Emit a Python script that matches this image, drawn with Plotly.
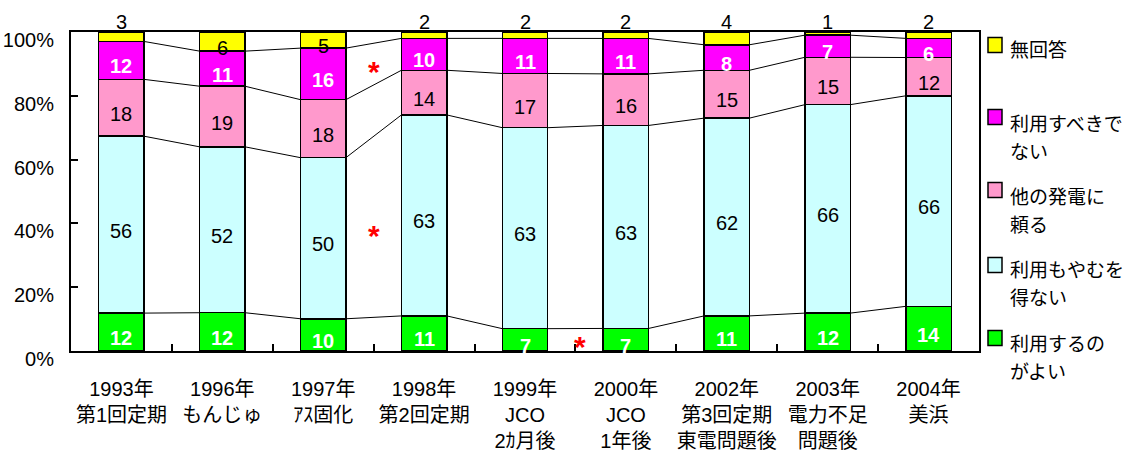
import numpy as np
import plotly.graph_objects as go

# ---------------- data ----------------
categories = ["1993年<br>第1回定期", "1996年<br>もんじゅ", "1997年<br>ｱｽ固化", "1998年<br>第2回定期",
              "1999年<br>JCO<br>2ｶ月後", "2000年<br>JCO<br>1年後", "2002年<br>第3回定期<br>東電問題後",
              "2003年<br>電力不足<br>問題後", "2004年<br>美浜"]
series_names = ["利用するのがよい", "利用もやむを得ない", "他の発電に頼る", "利用すべきでない", "無回答"]
legend_lines = [["利用するの", "がよい"], ["利用もやむを", "得ない"], ["他の発電に", "頼る"],
                ["利用すべきで", "ない"], ["無回答"]]
good = [12, 12, 10, 11, 7, 7, 11, 12, 14]
unavoidable = [56, 52, 50, 63, 63, 63, 62, 66, 66]
other_power = [18, 19, 18, 14, 17, 16, 15, 15, 12]
should_not = [12, 11, 16, 10, 11, 11, 8, 7, 6]
no_answer = [3, 6, 5, 2, 2, 2, 4, 1, 2]
y_tickvals = [0, 20, 40, 60, 80, 100]
y_ticktext = ["0%", "20%", "40%", "60%", "80%", "100%"]
star_x = [2.5, 2.5, 4.55]
star_y = [88.7, 37.3, 2.5]

colors = ["#00FF00", "#CCFFFF", "#FF99CC", "#FF00FF", "#FFFF00"]
label_colors = ["white", "black", "black", "white", "black"]
label_bold = [True, False, False, True, False]

series = [good, unavoidable, other_power, should_not, no_answer]
vals = np.array(series, dtype=float)
norm = vals / vals.sum(axis=0) * 100.0
cum = np.cumsum(norm, axis=0)

n = len(categories)
xpos = np.arange(n)
BW = 0.45

# plot area geometry (px)
W, H = 1134, 466
L, R, T, B = 71, 155, 32, 115
PW, PH = W - L - R, H - T - B

def pxx(px):
    return (px - L) / PW

def pxy(py):
    return (H - B - py) / PH

NUMFONT = "Liberation Sans, Arial, sans-serif"
JPFONT = "Liberation Sans, Noto Sans CJK JP, sans-serif"

fig = go.Figure()
for s in range(5):
    fig.add_trace(go.Bar(
        x=xpos, y=series[s], name=series_names[s], width=BW,
        marker=dict(color=colors[s], line=dict(color="black", width=1.5)),
        showlegend=False, hoverinfo="skip"))

# connecting lines
for s in range(4):
    for i in range(n - 1):
        fig.add_trace(go.Scatter(
            x=[xpos[i] + BW / 2, xpos[i + 1] - BW / 2], y=[cum[s, i], cum[s, i + 1]],
            mode="lines", line=dict(color="black", width=1), showlegend=False, hoverinfo="skip"))

annotations = []
for s in range(5):
    for i in range(n):
        v = series[s][i]
        txt = f"<b>{v}</b>" if label_bold[s] else str(v)
        bottom = cum[s, i] - norm[s, i]
        if s == 4 and v <= 4:
            annotations.append(dict(x=xpos[i], y=100, xref="x", yref="y", text=txt, showarrow=False,
                                    yanchor="middle", yshift=10,
                                    font=dict(family=NUMFONT, size=20, color=label_colors[s])))
        else:
            annotations.append(dict(x=xpos[i], y=bottom + norm[s, i] / 2, xref="x", yref="y", text=txt,
                                    showarrow=False, yanchor="middle", yshift=-6,
                                    font=dict(family=NUMFONT, size=20, color=label_colors[s])))

for sx, sy in zip(star_x, star_y):
    annotations.append(dict(x=sx, y=sy, xref="x", yref="y", text="<b>*</b>", showarrow=False,
                            yanchor="middle", yshift=-3,
                            font=dict(family="Liberation Sans, Arial", size=30, color="red")))

# legend (top item first)
leg_sq_y = [45, 117, 190, 265, 338]      # px centres of squares, top->bottom
leg_txt_y = [49, 122, 195, 268, 342]     # px centre of first text line
LINE_GAP = 28
shapes = []
for k, s in enumerate([4, 3, 2, 1, 0]):
    cy = leg_sq_y[k]
    shapes.append(dict(type="rect", xref="paper", yref="paper",
                       x0=pxx(988), x1=pxx(1002), y0=pxy(cy + 7.5), y1=pxy(cy - 7.5),
                       fillcolor=colors[s], line=dict(color="black", width=1.5)))
    for j, line in enumerate(legend_lines[s]):
        annotations.append(dict(x=pxx(1008), y=pxy(leg_txt_y[k] + j * LINE_GAP), xref="paper", yref="paper",
                                text=line, showarrow=False, xanchor="left", yanchor="middle",
                                align="left", font=dict(family="Noto Sans CJK JP", size=19, color="black")))

fig.update_layout(
    width=W, height=H, margin=dict(l=L, r=R, t=T, b=B, autoexpand=False),
    barmode="stack", barnorm="percent",
    plot_bgcolor="white", paper_bgcolor="white",
    annotations=annotations, shapes=shapes, showlegend=False,
)
fig.update_xaxes(range=[-0.5, n - 0.5], tickmode="array", tickvals=list(xpos), ticktext=categories,
                 ticks="", showline=True, linecolor="black", linewidth=2, mirror=True,
                 showgrid=False, zeroline=False, tickangle=0, automargin=False,
                 ticklabelstandoff=19,
                 tickfont=dict(family=JPFONT, size=20, color="black"),
                 minor=dict(tickvals=[i + 0.5 for i in range(n - 1)], ticks="inside",
                            ticklen=7, tickwidth=1.5, tickcolor="black", showgrid=False))
fig.update_yaxes(range=[0, 100], tickmode="array", tickvals=y_tickvals, ticktext=y_ticktext,
                 ticks="inside", ticklen=7, tickwidth=1.5, tickcolor="black",
                 showline=True, linecolor="black", linewidth=2, mirror=True, automargin=False,
                 showgrid=False, zeroline=False, ticklabelstandoff=11, ticklabelshift=8,
                 tickfont=dict(family=NUMFONT, size=20, color="black"))

fig.write_html("out.html")
